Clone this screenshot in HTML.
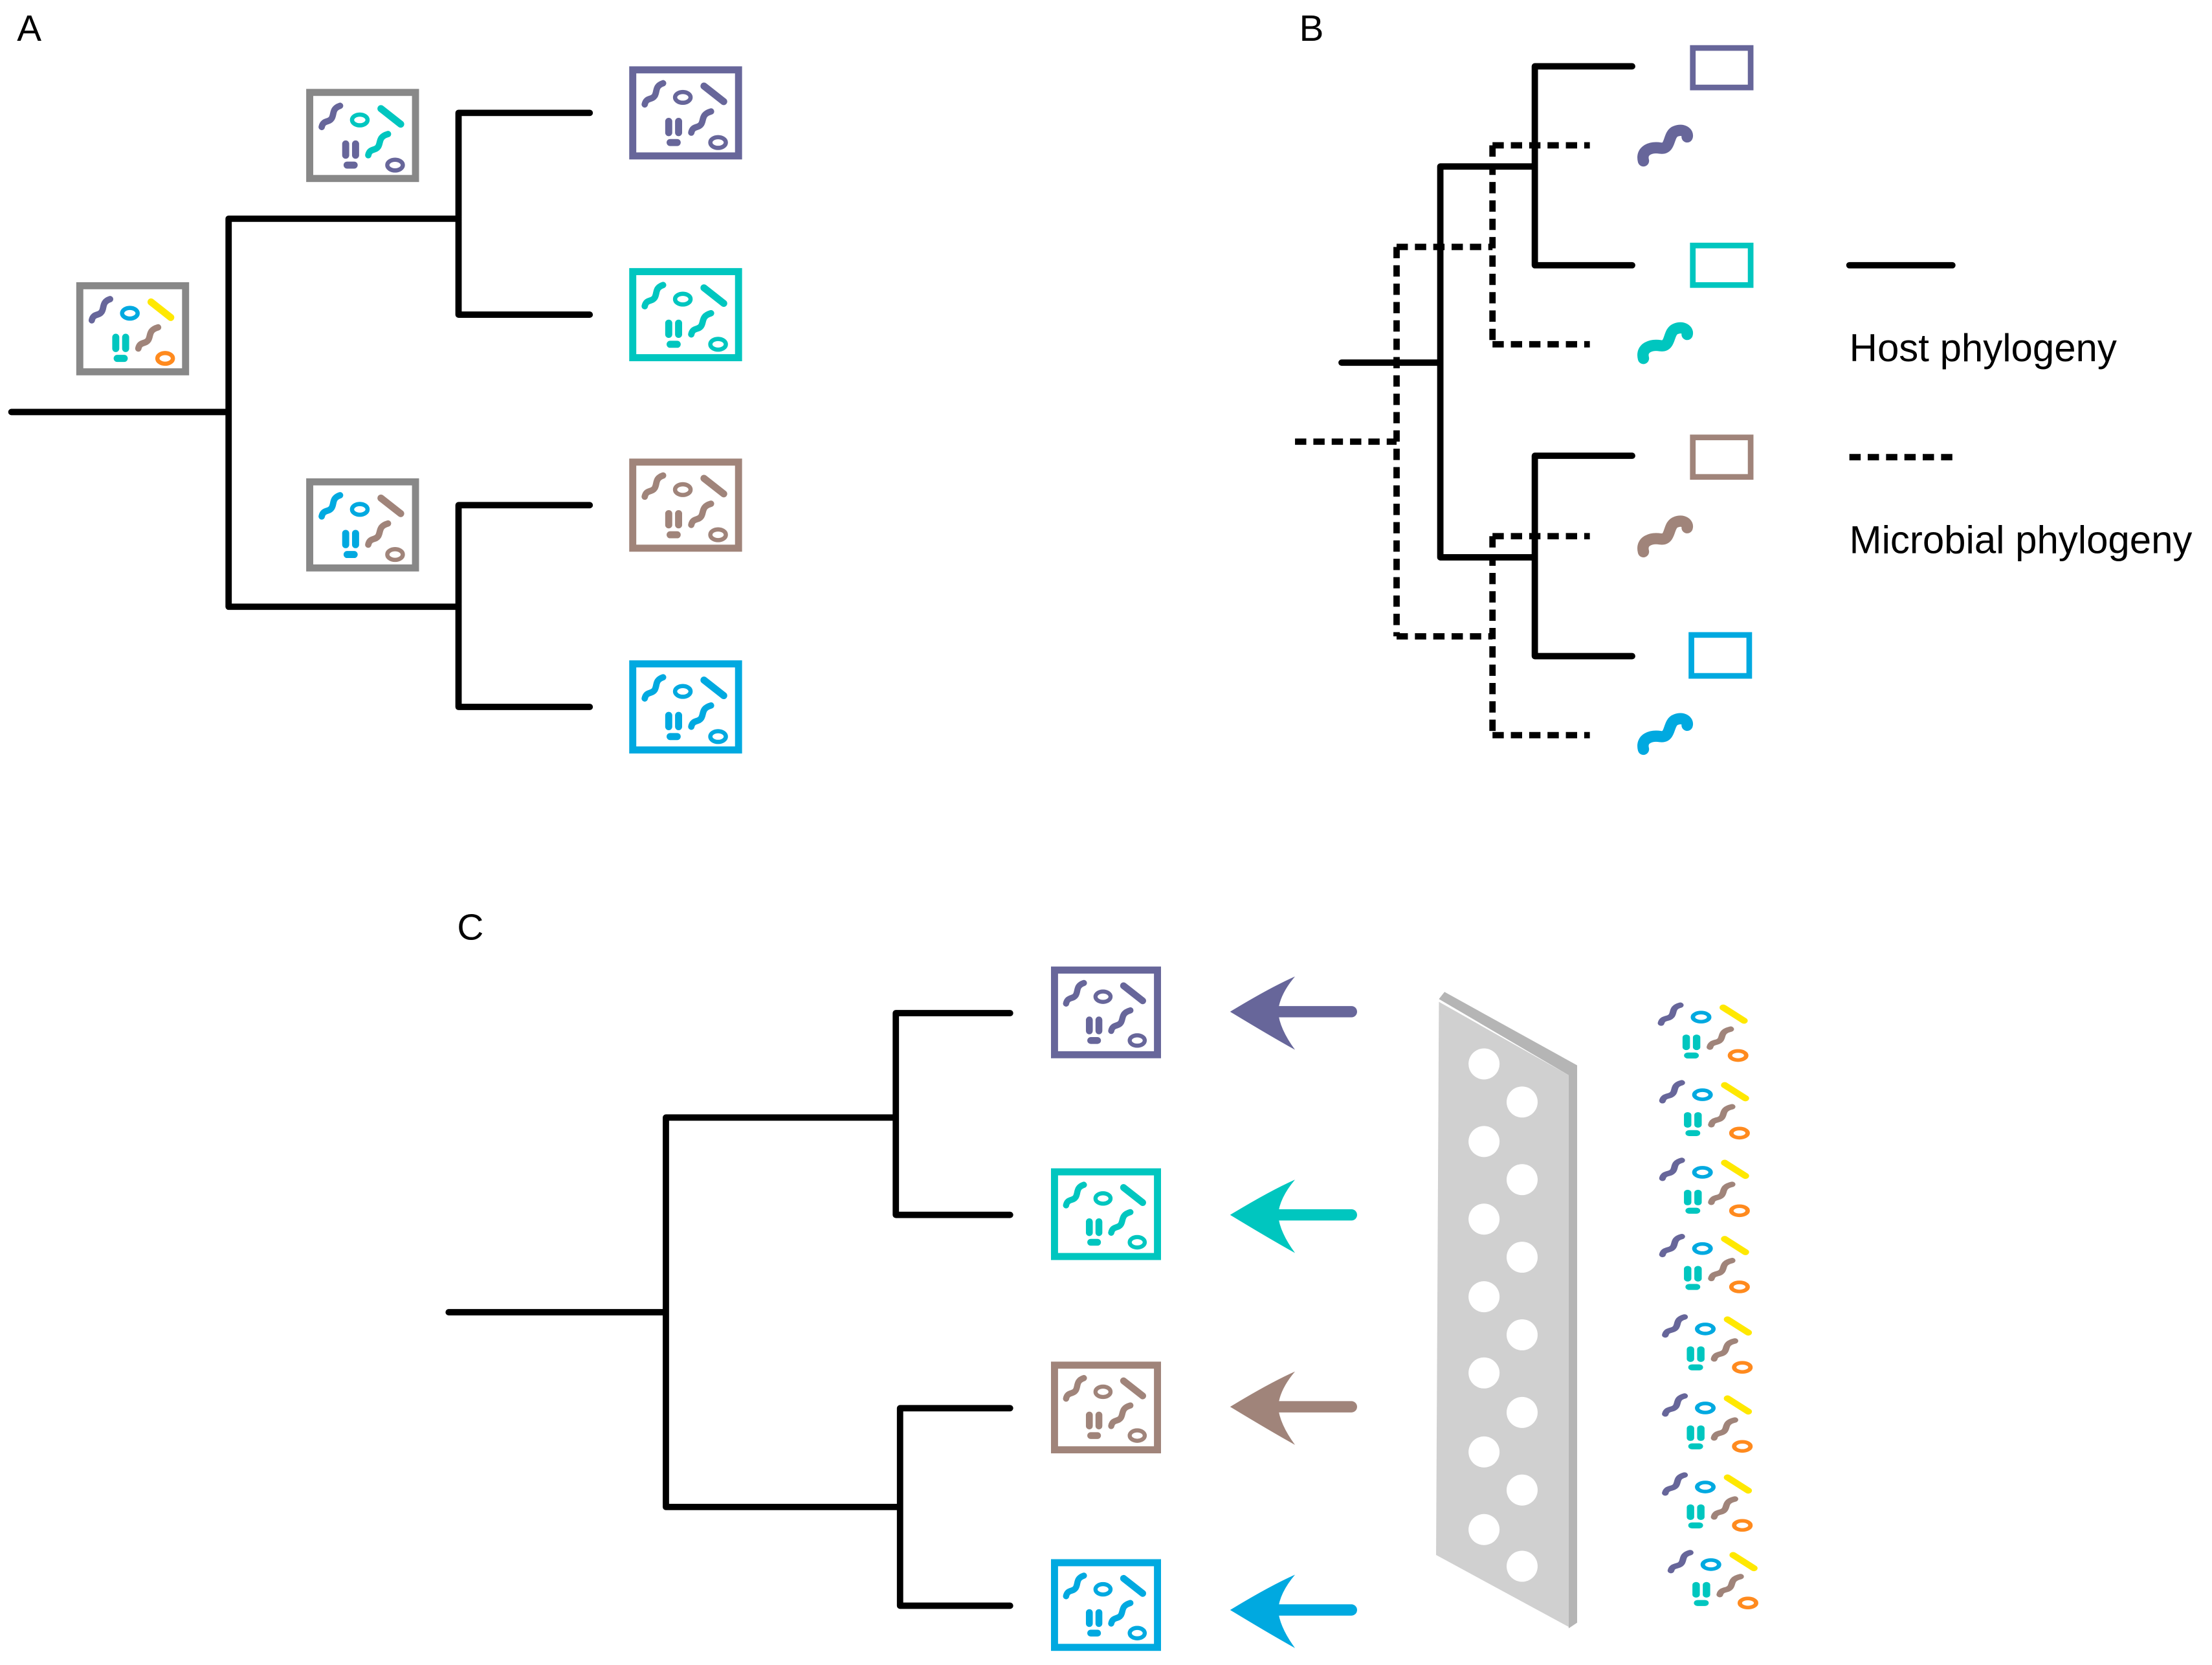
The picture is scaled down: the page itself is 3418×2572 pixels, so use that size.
<!DOCTYPE html>
<html><head><meta charset="utf-8"><style>
html,body{margin:0;padding:0;background:#fff;}
svg{display:block;}
text{font-family:"Liberation Sans",sans-serif;fill:#000;}
.m *{fill:none;stroke-linecap:round;}
</style></head><body>
<svg width="3418" height="2572" viewBox="0 0 1568 1180" xmlns="http://www.w3.org/2000/svg">
<defs>
<g id="m" class="m">
 <path d="M10,26 C11,21 15,23 17,20 C19,17 17,13 23,11" style="stroke:var(--a)" stroke-width="4.5"/>
 <ellipse cx="37" cy="21" rx="5.5" ry="3.8" style="stroke:var(--b)" stroke-width="3"/>
 <line x1="52" y1="13" x2="66" y2="24" style="stroke:var(--c)" stroke-width="5"/>
 <line x1="27" y1="38" x2="27" y2="46" style="stroke:var(--d)" stroke-width="5"/>
 <line x1="34" y1="38" x2="34" y2="46" style="stroke:var(--d)" stroke-width="5"/>
 <line x1="28" y1="53" x2="33" y2="53" style="stroke:var(--d)" stroke-width="5"/>
 <path d="M43,46 C44,41 48,43 50,40 C52,37 50,33 57,31" style="stroke:var(--e)" stroke-width="4.5"/>
 <ellipse cx="62" cy="53" rx="5.5" ry="3.8" style="stroke:var(--f)" stroke-width="3"/>
</g>
<path id="sq" d="M0,21 C-2,13 6,11 12,12 C20,13 17,2 23,0 C28,-2 32,1 31,4" fill="none" stroke-width="8" stroke-linecap="round"/>
</defs>

<!-- Panel A -->
<text x="12" y="29" font-size="26">A</text>
<g stroke="#000" stroke-width="4.5" fill="none" stroke-linecap="round">
 <path d="M8,292 H162 M162,155 V430 M162,155 H325 M162,430 H325 M325,80 V223 M325,80 H418 M325,223 H418 M325,358 V501 M325,358 H418 M325,501 H418"/>
</g>
<g stroke-width="5" fill="#fff">
 <rect x="56.5" y="202.5" width="75" height="61" stroke="#888"/>
 <rect x="219.5" y="65.5" width="75" height="61" stroke="#888"/>
 <rect x="219.5" y="341.5" width="75" height="61" stroke="#888"/>
 <rect x="448.5" y="49.5" width="75" height="61" stroke="#67669a"/>
 <rect x="448.5" y="192.5" width="75" height="61" stroke="#00c6bf"/>
 <rect x="448.5" y="327.5" width="75" height="61" stroke="#a0847a"/>
 <rect x="448.5" y="470.5" width="75" height="61" stroke="#00a9e0"/>
</g>
<use href="#m" transform="translate(55,201)" style="--a:#67669a;--b:#00a9e0;--c:#ffe800;--d:#00c6bf;--e:#a0847a;--f:#ff8a1e"/>
<use href="#m" transform="translate(218,64)" style="--a:#67669a;--b:#00c6bf;--c:#00c6bf;--d:#67669a;--e:#00c6bf;--f:#67669a"/>
<use href="#m" transform="translate(218,340)" style="--a:#00a9e0;--b:#00a9e0;--c:#a0847a;--d:#00a9e0;--e:#a0847a;--f:#a0847a"/>
<use href="#m" transform="translate(447,48)" style="--a:#67669a;--b:#67669a;--c:#67669a;--d:#67669a;--e:#67669a;--f:#67669a"/>
<use href="#m" transform="translate(447,191)" style="--a:#00c6bf;--b:#00c6bf;--c:#00c6bf;--d:#00c6bf;--e:#00c6bf;--f:#00c6bf"/>
<use href="#m" transform="translate(447,326)" style="--a:#a0847a;--b:#a0847a;--c:#a0847a;--d:#a0847a;--e:#a0847a;--f:#a0847a"/>
<use href="#m" transform="translate(447,469)" style="--a:#00a9e0;--b:#00a9e0;--c:#00a9e0;--d:#00a9e0;--e:#00a9e0;--f:#00a9e0"/>

<!-- Panel B -->
<text x="921" y="29" font-size="26">B</text>
<g stroke="#000" stroke-width="4.5" fill="none" stroke-dasharray="8 5">
 <path d="M918,313 H990 M990,175 V451 M990,175 H1058 M990,451 H1058 M1058,103 V244 M1058,103 H1127 M1058,244 H1127 M1058,380 V521 M1058,380 H1127 M1058,521 H1127"/>
</g>
<g stroke="#000" stroke-width="4.5" fill="none" stroke-linecap="round">
 <path d="M951,257 H1021 M1021,118 V395 M1021,118 H1088 M1021,395 H1088 M1088,47 V188 M1088,47 H1157 M1088,188 H1157 M1088,323 V465 M1088,323 H1157 M1088,465 H1157"/>
 <path d="M1311,188 H1384"/>
</g>
<path d="M1311,324 H1384" stroke="#000" stroke-width="4.5" stroke-dasharray="8 5"/>
<g stroke-width="4" fill="none">
 <rect x="1200" y="34" width="41" height="28" stroke="#67669a"/>
 <rect x="1200" y="174" width="41" height="28" stroke="#00c6bf"/>
 <rect x="1200" y="310" width="41" height="28" stroke="#a0847a"/>
 <rect x="1199" y="450" width="41" height="29" stroke="#00a9e0"/>
</g>
<use href="#sq" transform="translate(1165,93)" stroke="#67669a"/>
<use href="#sq" transform="translate(1165,233)" stroke="#00c6bf"/>
<use href="#sq" transform="translate(1165,370)" stroke="#a0847a"/>
<use href="#sq" transform="translate(1165,510)" stroke="#00a9e0"/>
<text x="1311" y="256" font-size="27.5">Host phylogeny</text>
<text x="1311" y="392" font-size="27.5">Microbial phylogeny</text>

<!-- Panel C -->
<text x="324" y="666" font-size="26">C</text>
<g stroke="#000" stroke-width="4.5" fill="none" stroke-linecap="round">
 <path d="M318,930 H472 M472,792 V1068 M472,792 H635 M472,1068 H638 M635,718 V861 M635,718 H716 M635,861 H716 M638,998 V1138 M638,998 H716 M638,1138 H716"/>
</g>
<g stroke-width="5" fill="#fff">
 <rect x="747.5" y="687.5" width="73" height="60" stroke="#67669a"/>
 <rect x="747.5" y="830.5" width="73" height="60" stroke="#00c6bf"/>
 <rect x="747.5" y="967.5" width="73" height="60" stroke="#a0847a"/>
 <rect x="747.5" y="1107.5" width="73" height="60" stroke="#00a9e0"/>
</g>
<use href="#m" transform="translate(746,686) scale(0.97)" style="--a:#67669a;--b:#67669a;--c:#67669a;--d:#67669a;--e:#67669a;--f:#67669a"/>
<use href="#m" transform="translate(746,829) scale(0.97)" style="--a:#00c6bf;--b:#00c6bf;--c:#00c6bf;--d:#00c6bf;--e:#00c6bf;--f:#00c6bf"/>
<use href="#m" transform="translate(746,966) scale(0.97)" style="--a:#a0847a;--b:#a0847a;--c:#a0847a;--d:#a0847a;--e:#a0847a;--f:#a0847a"/>
<use href="#m" transform="translate(746,1106) scale(0.97)" style="--a:#00a9e0;--b:#00a9e0;--c:#00a9e0;--d:#00a9e0;--e:#00a9e0;--f:#00a9e0"/>

<!-- arrows -->
<g stroke-width="8" stroke-linecap="round">
 <line x1="905" y1="717" x2="958" y2="717" stroke="#67669a"/>
 <line x1="905" y1="861" x2="958" y2="861" stroke="#00c6bf"/>
 <line x1="905" y1="997" x2="958" y2="997" stroke="#a0847a"/>
 <line x1="905" y1="1141" x2="958" y2="1141" stroke="#00a9e0"/>
</g>
<path d="M872,717 Q900,700 918,692 Q907,705 906,717 Q907,729 918,744 Q900,734 872,717 Z" fill="#67669a"/>
<path d="M872,861 Q900,844 918,836 Q907,849 906,861 Q907,873 918,888 Q900,878 872,861 Z" fill="#00c6bf"/>
<path d="M872,997 Q900,980 918,972 Q907,985 906,997 Q907,1009 918,1024 Q900,1014 872,997 Z" fill="#a0847a"/>
<path d="M872,1141 Q900,1124 918,1116 Q907,1129 906,1141 Q907,1153 918,1168 Q900,1158 872,1141 Z" fill="#00a9e0"/>

<!-- filter -->
<polygon points="1020,708 1024,703 1118,755 1118,1150 1112,1154 1112,762" fill="#b5b5b5"/>
<polygon points="1020,710 1112,762 1112,1153 1018,1102" fill="#d0d0d0"/>
<g fill="#fff">
 <circle cx="1052" cy="754" r="11"/><circle cx="1052" cy="809" r="11"/><circle cx="1052" cy="864" r="11"/><circle cx="1052" cy="919" r="11"/><circle cx="1052" cy="973" r="11"/><circle cx="1052" cy="1029" r="11"/><circle cx="1052" cy="1084" r="11"/>
 <circle cx="1079" cy="781" r="11"/><circle cx="1079" cy="836" r="11"/><circle cx="1079" cy="891" r="11"/><circle cx="1079" cy="946" r="11"/><circle cx="1079" cy="1001" r="11"/><circle cx="1079" cy="1056" r="11"/><circle cx="1079" cy="1110" r="11"/>
</g>
<g style="--a:#67669a;--b:#00a9e0;--c:#ffe800;--d:#00c6bf;--e:#a0847a;--f:#ff8a1e">
 <use href="#m" transform="translate(1167,703) scale(1.05,0.85)"/>
 <use href="#m" transform="translate(1168,758) scale(1.05,0.85)"/>
 <use href="#m" transform="translate(1168,813) scale(1.05,0.85)"/>
 <use href="#m" transform="translate(1168,867) scale(1.05,0.85)"/>
 <use href="#m" transform="translate(1170,924) scale(1.05,0.85)"/>
 <use href="#m" transform="translate(1170,980) scale(1.05,0.85)"/>
 <use href="#m" transform="translate(1170,1036) scale(1.05,0.85)"/>
 <use href="#m" transform="translate(1174,1091) scale(1.05,0.85)"/>
</g>
</svg>
</body></html>
